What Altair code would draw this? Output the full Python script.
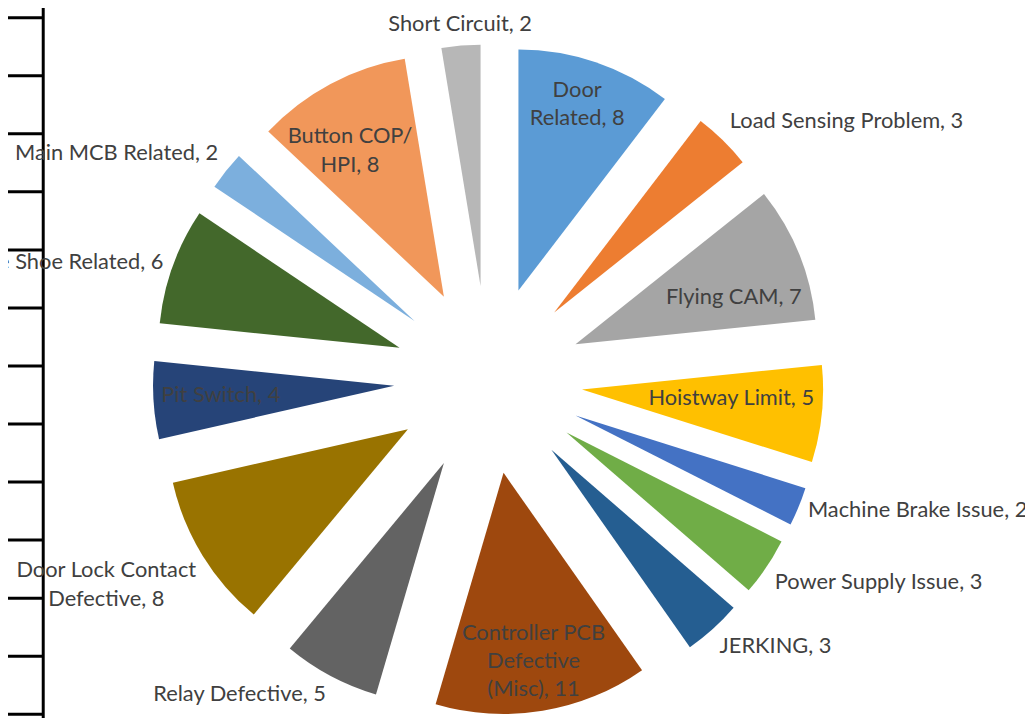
import altair as alt
import pandas as pd

# ---------------- data ----------------
CATEGORIES = [
    "Door\nRelated", "Load Sensing Problem", "Flying CAM", "Hoistway Limit",
    "Machine Brake Issue", "Power Supply Issue", "JERKING",
    "Controller PCB\nDefective\n(Misc)", "Relay Defective",
    "Door Lock Contact\nDefective", "Pit Switch", "Guide Shoe Related",
    "Main MCB Related", "Button COP/\nHPI", "Short Circuit",
]
VALUES = [8, 3, 7, 5, 2, 3, 3, 11, 5, 8, 4, 6, 2, 8, 2]
COLORS = [
    "#5B9BD5", "#ED7D31", "#A5A5A5", "#FFC000", "#4472C4", "#70AD47", "#255E91",
    "#9E480E", "#636363", "#997300", "#264478", "#43682B", "#7CAFDD", "#F1975A", "#B7B7B7",
]
# label placement (layout only): fraction of the radius for labels drawn inside a
# slice (0 = label outside) and a small angular nudge in degrees for those labels
LABEL_INSIDE = [0.81, 0, 0.685, 0.62, 0, 0, 0, 0.79, 0, 0, 0.72, 0, 0, 0.72, 0]
LABEL_NUDGE = [-1.2, 0, 5.6, -2.5, 0, 0, 0, 0.3, 0, 0, 0.5, 0, 0, -4.7, 0]
GRID_ROWS = list(range(13))

# ---------------- layout ----------------
W, H = 1025, 710
CX, CY = 484, 372      # pie centre (view px)
R = 243                # slice radius
EXPLODE = 95           # explosion distance
GAP = 10               # gap between slice and outside label
CHAR_W = 10.4          # approx. character width, used to centre wrapped outside labels
FONT = "Lato"
FS = 22
LH = 28.5
TXT = "#404040"
GRID_Y0, GRID_STEP = 7, 58.5

df = pd.DataFrame({
    "name": CATEGORIES,
    "value": VALUES,
    "color": COLORS,
    "order": list(range(len(VALUES))),
    "inside": LABEL_INSIDE,
    "nudge": LABEL_NUDGE,
})

base = (
    alt.Chart(df)
    .transform_joinaggregate(total="sum(value)")
    .transform_window(cum="sum(value)", sort=[alt.SortField("order")], frame=[None, 0])
    .transform_calculate(a0="(datum.cum - datum.value) / datum.total * 2 * PI")
    .transform_calculate(a1="datum.cum / datum.total * 2 * PI")
    .transform_calculate(mid="(datum.a0 + datum.a1) / 2")
    .transform_calculate(sx="sin(datum.mid)")
    .transform_calculate(sy="-cos(datum.mid)")
    .transform_calculate(ax=f"{CX} + {EXPLODE} * datum.sx")
    .transform_calculate(ay=f"{CY} + {EXPLODE} * datum.sy")
)

arcs = base.mark_arc(radius=R).encode(
    x=alt.X("ax:Q", scale=None, axis=None),
    y=alt.Y("ay:Q", scale=None, axis=None),
    theta=alt.Theta("a0:Q", scale=None),
    theta2="a1:Q",
    color=alt.Color("color:N", scale=None),
)

lab = (
    base
    .transform_calculate(label="datum.name + ', ' + datum.value")
    .transform_calculate(isin="datum.inside > 0")
    .transform_calculate(la="datum.mid + datum.nudge * PI / 180")
    .transform_calculate(lr=f"datum.isin ? datum.inside * {R} : {R} + {GAP}")
    .transform_calculate(tx0="datum.ax + datum.lr * sin(datum.la)")
    .transform_calculate(ty0="datum.ay - datum.lr * cos(datum.la)")
    .transform_calculate(
        ha0="datum.isin ? 'center' : (abs(datum.sx) < 0.2 ? 'center' : (datum.sx > 0 ? 'left' : 'right'))"
    )
    .transform_calculate(
        vbase="datum.isin ? 'middle' : (datum.sy > 0.45 ? 'top' : (datum.sy < -0.45 ? 'bottom' : 'middle'))"
    )
    .transform_calculate(nl="length(split(datum.label, '\\n'))")
    .transform_calculate(multi="datum.nl > 1")
    .transform_calculate(
        estw=f"datum.multi ? {CHAR_W} * max(length(split(datum.label, '\\n')[0]), length(split(datum.label, '\\n')[1])) : 0"
    )
    .transform_calculate(
        tx="(datum.multi && datum.ha0 == 'left') ? datum.tx0 + datum.estw / 2 : "
           "((datum.multi && datum.ha0 == 'right') ? datum.tx0 - datum.estw / 2 : datum.tx0)"
    )
    .transform_calculate(
        ty=f"datum.vbase == 'middle' ? datum.ty0 - (datum.nl - 1) * {LH} / 2 : "
           f"(datum.vbase == 'bottom' ? datum.ty0 - (datum.nl - 1) * {LH} : datum.ty0)"
    )
    .transform_calculate(halign="datum.multi ? 'center' : datum.ha0")
)

text_layers = []
for ha in ["left", "center", "right"]:
    for vb in ["top", "middle", "bottom"]:
        text_layers.append(
            lab.transform_filter(f"datum.halign == '{ha}' && datum.vbase == '{vb}'")
            .mark_text(align=ha, baseline=vb, font=FONT, fontSize=FS, color=TXT,
                       lineBreak="\n", lineHeight=LH)
            .encode(
                x=alt.X("tx:Q", scale=None, axis=None),
                y=alt.Y("ty:Q", scale=None, axis=None),
                text="label:N",
            )
        )

grid_df = pd.DataFrame({"row": GRID_ROWS})
hlines = (
    alt.Chart(grid_df)
    .transform_calculate(gy=f"{GRID_Y0} + {GRID_STEP} * datum.row")
    .mark_rule(color="black", strokeWidth=3)
    .encode(x=alt.value(0), x2=alt.value(36), y=alt.Y("gy:Q", scale=None, axis=None))
)
vline = (
    alt.Chart(pd.DataFrame({"row": [0]}))
    .mark_rule(color="black", strokeWidth=3)
    .encode(x=alt.value(35.5), y=alt.value(-10), y2=alt.value(H + 10))
)

chart = (
    alt.layer(hlines, vline, arcs, *text_layers)
    .properties(width=W, height=H, padding=0,
                autosize=alt.AutoSizeParams(type="none"), background="white")
    .configure_view(stroke="transparent")
)

chart.save("out.html", embed_options={"renderer": "svg", "actions": False})
